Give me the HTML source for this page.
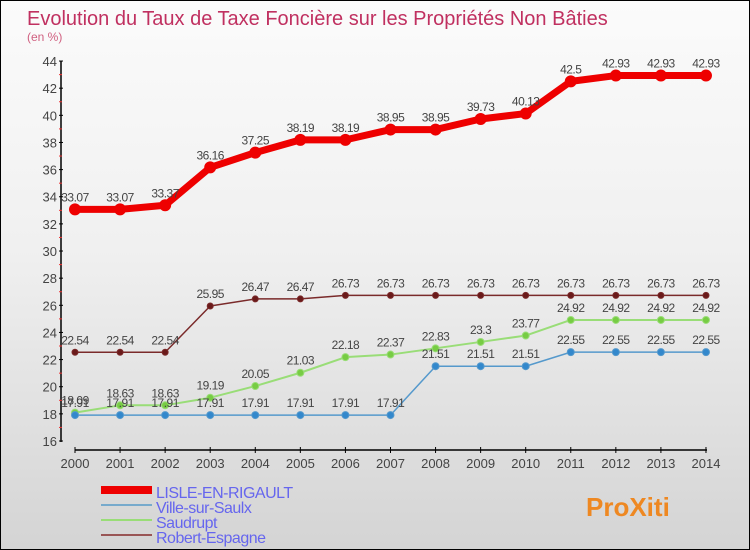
<!DOCTYPE html>
<html><head><meta charset="utf-8"><style>
body{margin:0}
#c{width:748px;height:548px;border:1px solid #000;background:linear-gradient(#fbfbfb,#f0f0f0 45%,#d4d4d4);position:relative;overflow:hidden;font-family:"Liberation Sans",sans-serif}
</style></head><body>
<div id="c">
<svg width="748" height="548" id="svg">
<text x="26" y="24" font-size="20" fill="#c03060">Evolution du Taux de Taxe Foncière sur les Propriétés Non Bâties</text>
<text x="26" y="40" font-size="12" fill="#d06080">(en %)</text>
<g id="g"></g>
</svg>
</div>
<script>
const years=[2000,2001,2002,2003,2004,2005,2006,2007,2008,2009,2010,2011,2012,2013,2014];
const yTicks=[16,18,20,22,24,26,28,30,32,34,36,38,40,42,44];
const lisle=[33.07,33.07,33.37,36.16,37.25,38.19,38.19,38.95,38.95,39.73,40.13,42.5,42.93,42.93,42.93];
const ville=[17.91,17.91,17.91,17.91,17.91,17.91,17.91,17.91,21.51,21.51,21.51,22.55,22.55,22.55,22.55];
const saud=[18.09,18.63,18.63,19.19,20.05,21.03,22.18,22.37,22.83,23.3,23.77,24.92,24.92,24.92,24.92];
const robert=[22.54,22.54,22.54,25.95,26.47,26.47,26.73,26.73,26.73,26.73,26.73,26.73,26.73,26.73,26.73];
const names=["LISLE-EN-RIGAULT","Ville-sur-Saulx","Saudrupt","Robert-Espagne"];
const NS="http://www.w3.org/2000/svg",g=document.getElementById('g');
const X=i=>74+i*45.07, Y=v=>440-(v-16)*13.57;
function el(t,a,txt){const e=document.createElementNS(NS,t);for(const k in a)e.setAttribute(k,a[k]);if(txt!=null)e.textContent=txt;g.appendChild(e);return e;}
let ax=el('line',{x1:60,y1:60,x2:60,y2:441,stroke:'#000','stroke-width':1.5});


let bx=el('line',{x1:74,y1:449,x2:706,y2:449,stroke:'#000','stroke-width':1.5});


yTicks.forEach((t,i)=>{
  el('line',{x1:58,x2:62,y1:Y(t),y2:Y(t),stroke:'#000'});
  if(i<yTicks.length-1)el('line',{x1:58,x2:61,y1:Y(t+1),y2:Y(t+1),stroke:'#e33'});
  const tx=el('text',{x:56,y:Y(t)+5,'font-size':13,'text-anchor':'end',fill:'#444'},t);
  
  
});
years.forEach((yr,i)=>{
  el('line',{x1:X(i),x2:X(i),y1:446,y2:452,stroke:'#000'});
  const tx=el('text',{x:X(i),y:467,'font-size':13,'text-anchor':'middle',fill:'#444'},yr);
  
  
});
function series(data,color,w,r,dot,name){
  const p=el('polyline',{points:data.map((v,i)=>X(i)+','+Y(v)).join(' '),fill:'none',stroke:color,'stroke-width':w,'stroke-linejoin':'round'});
  
  
  data.forEach((v,i)=>{
    const c=el('circle',{cx:X(i),cy:Y(v),r:r,fill:dot,stroke:color});
    
    
    const t=el('text',{x:X(i),y:Y(v)-8,'font-size':12,'text-anchor':'middle',fill:'#444','letter-spacing':'-0.5'},v);
    
    
  });
}
series(robert,'#7a2a2a',1.5,3,'#6a1a1a','robert-espagne');
series(saud,'#99dd77',2,3.5,'#77cc44','saudrupt');
series(ville,'#5599cc',1.5,3.5,'#3388cc','ville-sur-saulx');
series(lisle,'#ee0000',7,5.5,'#ee0000','lisle-en-rigault');
const lc=['#ee0000','#77aacc','#99dd77','#995555'],lw=[8,2,2,2];
names.forEach((n,i)=>{
  const y=493+i*15;
  const l=el('line',{x1:100,x2:151,y1:y-4,y2:y-4,stroke:lc[i],'stroke-width':lw[i]});
  
  
  const t=el('text',{x:155,y:y+4,'font-size':16,fill:'#6666ee','letter-spacing':'-0.5'},n);
  
  
});
const logo=el('text',{x:585,y:515,'font-size':26,'font-weight':'bold',fill:'#ee8822'},'ProXiti');


</script>
</body></html>
